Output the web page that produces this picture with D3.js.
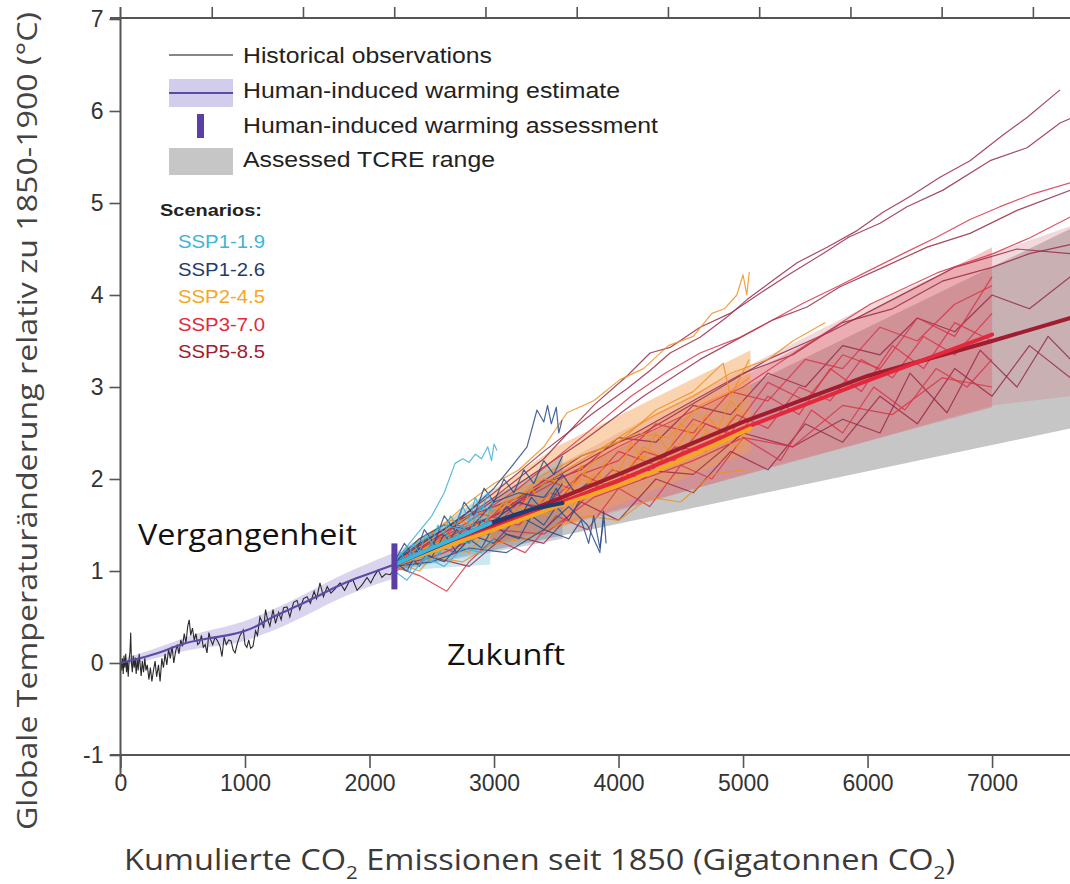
<!DOCTYPE html>
<html><head><meta charset="utf-8">
<script src="https://cdn.jsdelivr.net/npm/d3@7"></script>
<style>body{margin:0;background:#fff}svg{display:block}</style>
</head><body>
<svg id="c" width="1070" height="884"></svg>
<script>
// ---------------- DATA ----------------
const xTicks = [0,1000,2000,3000,4000,5000,6000,7000];
const yTicks = [-1,0,1,2,3,4,5,6,7];
const topTicksGtC = [200,400,600,800,1000,1200,1400,1600,1800,2000];

const scenarioNames = ["SSP1-1.9","SSP1-2.6","SSP2-4.5","SSP3-7.0","SSP5-8.5"];
const scenarioColors = ["#3cb4dc","#1f3b73","#f5a623","#e2283a","#a01c30"];
const memberColors = ["#3cb0d6","#2a4a86","#f0901e","#d8344a","#962a48"];

// historical observations [cumulative GtCO2, °C]
const histObs = [[0,0.02],[8,-0.08],[15,0.05],[22,-0.12],[28,0.08],[35,-0.05],[42,0.1],[48,-0.1],[55,0.02],[62,-0.15],[70,0.05],[76,0.12],[82,0.33],[88,0.0],[95,-0.1],[102,0.08],[110,-0.05],[118,0.06],[126,-0.12],[134,0.04],[142,-0.08],[150,0.1],[158,-0.02],[166,-0.14],[175,0.02],[185,-0.1],[195,0.05],[205,-0.08],[215,-0.02],[228,-0.18],[240,-0.05],[252,-0.2],[265,-0.08],[278,0.02],[290,-0.15],[305,-0.02],[318,-0.2],[332,0.05],[345,-0.05],[358,0.1],[372,-0.02],[386,0.15],[400,0.05],[414,0.18],[428,0.0],[442,0.12],[456,0.2],[470,0.1],[484,0.25],[498,0.18],[512,0.32],[526,0.22],[540,0.4],[552,0.47],[564,0.3],[578,0.38],[592,0.25],[606,0.32],[620,0.2],[635,0.22],[650,0.3],[665,0.17],[680,0.2],[695,0.11],[710,0.33],[725,0.25],[740,0.2],[760,0.28],[780,0.24],[800,0.18],[815,0.07],[832,0.28],[850,0.2],[870,0.25],[888,0.24],[905,0.14],[920,0.11],[940,0.22],[960,0.3],[986,0.36],[1000,0.2],[1015,0.17],[1030,0.25],[1045,0.16],[1064,0.18],[1085,0.35],[1100,0.3],[1120,0.5],[1136,0.45],[1150,0.38],[1165,0.58],[1180,0.48],[1200,0.4],[1225,0.58],[1245,0.43],[1270,0.55],[1290,0.47],[1310,0.6],[1337,0.61],[1360,0.5],[1390,0.66],[1418,0.68],[1440,0.58],[1470,0.7],[1498,0.72],[1525,0.65],[1555,0.78],[1575,0.7],[1602,0.87],[1630,0.72],[1660,0.83],[1690,0.76],[1720,0.8],[1763,0.87],[1800,0.79],[1835,0.88],[1868,0.9],[1900,0.79],[1940,0.85],[1980,0.93],[2010,0.87],[2040,0.95],[2069,1.01],[2100,0.93],[2130,0.97],[2165,0.96],[2190,1.0]];

// human-induced warming estimate
const humanLine = [[0,0],[150,0.05],[317,0.11],[530,0.23],[719,0.27],[900,0.31],[986,0.34],[1100,0.4],[1175,0.47],[1300,0.55],[1442,0.63],[1600,0.74],[1843,0.9],[2000,0.97],[2200,1.07]];
const humanBand = [[0,-0.03,0.04],[300,0.05,0.16],[600,0.17,0.33],[900,0.19,0.40],[1200,0.33,0.56],[1500,0.52,0.76],[1800,0.74,0.98],[2200,0.92,1.2]];
const assessment = {x:2200, lo:0.8, hi:1.3};

// assessed TCRE range [GtCO2, low, high]
const tcreRange = [[2200,1.0,1.15],[7630,2.55,4.72]];

// scenario ranges [GtCO2, low, high]
const rangeSSP119 = [[2200,1.0,1.15],[2970,1.07,1.88]];
const rangeSSP126 = [[2200,1.0,1.15],[3550,1.35,2.25]];
const rangeSSP245 = [[2200,1.0,1.15],[3500,1.45,2.35],[5060,2.3,3.4]];
const rangeSSP370 = [[2200,1.0,1.15],[7000,2.78,4.52]];
const rangeSSP585 = [[2200,1.0,1.2],[4000,1.65,2.5],[5000,2.05,3.2],[6100,2.45,3.95],[7000,2.8,4.45],[7630,2.9,4.75]];

// scenario means
const meanSSP119 = [[2200,1.07],[2500,1.25],[2800,1.42],[2970,1.52]];
const meanSSP126 = [[2200,1.07],[2600,1.3],[2970,1.52],[3300,1.67],[3550,1.74]];
const meanSSP245 = [[2200,1.07],[3000,1.45],[3500,1.7],[4000,1.93],[4500,2.2],[5060,2.55]];
const meanSSP370 = [[2200,1.07],[3000,1.47],[4000,1.98],[5000,2.55],[6000,3.07],[7000,3.57]];
const meanSSP585 = [[2200,1.07],[3000,1.5],[4000,2.05],[5000,2.62],[6000,3.12],[7000,3.5],[7630,3.75]];

// individual model simulations
const membersSSP585 = [
 [[2200,1.1],[2600,1.45],[3000,1.85],[3400,2.3],[3800,2.72],[4068,2.98],[4253,3.18],[4414,3.37],[4655,3.54],[4871,3.76],[5032,3.95],[5241,4.16],[5434,4.35],[5675,4.52],[5916,4.7],[6124,4.9],[6341,5.07],[6582,5.28],[6823,5.46],[7088,5.74],[7281,5.93],[7546,6.23]],
 [[2200,1.08],[2600,1.42],[3000,1.8],[3400,2.22],[3800,2.8],[4068,3.12],[4253,3.37],[4414,3.43],[4655,3.65],[4896,3.8],[5137,4.02],[5378,4.23],[5643,4.45],[5851,4.63],[6100,4.78],[6317,4.96],[6606,5.14],[6984,5.46],[7281,5.6],[7546,5.87],[7630,5.92]],
 [[2200,1.08],[2700,1.5],[3200,1.95],[3700,2.4],[4200,2.9],[4655,3.3],[5241,3.73],[5514,3.87],[5779,4.09],[6124,4.3],[6478,4.52],[6823,4.67],[7201,4.92],[7630,5.14]],
 [[2200,1.1],[2700,1.55],[3200,1.8],[3700,2.25],[4200,2.5],[4700,2.9],[5200,3.3],[5700,3.6],[6200,3.95],[6700,4.3],[7200,4.5],[7630,4.45]],
 [[2200,1.1],[2500,1.3],[2800,1.5],[3100,1.65],[3400,1.95],[3700,2.1],[4000,2.45],[4300,2.4],[4600,2.8],[4900,2.7],[5200,3.15],[5500,3.0],[5800,3.45],[6100,3.35],[6400,3.75],[6700,3.6],[7000,4.0],[7300,3.85],[7630,4.2]],
 [[2200,1.05],[2500,1.15],[2800,1.05],[3100,1.4],[3400,1.3],[3700,1.75],[4000,1.55],[4300,2.0],[4600,1.85],[4900,2.3],[5200,2.1],[5500,2.6],[5800,2.4],[6100,2.9],[6400,2.6],[6700,3.2],[7000,2.9],[7300,3.45],[7630,3.1]],
 [[2200,1.05],[2600,1.25],[3000,1.5],[3400,1.65],[3800,1.9],[4200,2.1],[4600,2.05],[5000,2.5],[5400,2.35],[5800,2.65],[6100,2.5],[6341,3.15],[6638,2.72],[6904,3.4],[7200,3.0],[7450,3.55],[7630,3.3]],
 [[2200,1.05],[2600,1.35],[3000,1.6],[3400,1.95],[3800,2.25],[4200,2.55],[4600,2.85],[5000,3.15],[5400,3.35],[5800,3.7],[6200,3.85],[6600,4.15],[7000,4.3],[7300,4.45],[7630,4.55]]
];
const membersSSP370 = [
 [[2200,1.1],[2700,1.45],[3200,1.9],[3700,2.45],[4100,2.9],[4374,3.15],[4655,3.37],[4976,3.54],[5241,3.73],[5482,3.91],[5755,4.09],[6020,4.27],[6285,4.45],[6558,4.63],[6823,4.82],[7064,4.96],[7329,5.1],[7630,5.22]],
 [[2200,1.05],[3000,1.6],[4000,2.35],[5000,3.0],[5500,3.45],[6020,3.9],[6558,4.24],[7008,4.45],[7300,4.62],[7630,4.85]],
 [[2200,1.1],[2450,1.3],[2700,1.2],[2950,1.55],[3200,1.5],[3450,1.85],[3700,1.75],[3950,2.1],[4200,2.0],[4450,2.35],[4700,2.3],[4950,2.7],[5200,2.55],[5450,3.0],[5700,2.85],[5950,3.3],[6200,3.1],[6450,3.55],[6700,3.35],[7000,3.8]],
 [[2200,1.05],[2400,0.95],[2620,0.78],[2800,1.1],[3000,1.35],[3250,1.2],[3500,1.6],[3750,1.45],[4000,1.9],[4250,1.7],[4500,2.15],[4750,2.0],[5000,2.45],[5300,2.2],[5550,2.75],[5800,2.5],[6050,3.0],[6300,2.75],[6550,3.2],[6800,3.0],[7000,3.3]],
 [[2200,1.1],[2500,1.4],[2800,1.35],[3100,1.75],[3400,1.7],[3700,2.05],[4000,2.2],[4300,2.6],[4600,2.5],[4900,2.95],[5200,2.85],[5500,3.3],[5800,3.2],[6100,3.65],[6400,3.5],[6700,3.9],[7000,4.1]],
 [[2200,1.0],[2600,1.2],[3000,1.45],[3400,1.4],[3800,1.8],[4200,2.0],[4600,2.2],[5000,2.45],[5400,2.35],[5800,2.8],[6200,2.7],[6600,3.1],[7000,3.0]],
 [[2200,1.08],[2450,1.2],[2700,1.5],[2950,1.4],[3200,1.75],[3450,1.65],[3700,2.05],[3950,1.9],[4200,2.3],[4450,2.2],[4700,2.6],[4950,2.45],[5200,2.9],[5450,2.7],[5700,3.2],[5950,2.95],[6200,3.45],[6450,3.2],[6700,3.7],[7000,3.5]],
 [[2200,1.1],[2500,1.3],[2800,1.65],[3100,1.55],[3400,2.0],[3700,1.85],[4000,2.3],[4300,2.15],[4600,2.65],[4900,2.5],[5200,3.05],[5500,2.85],[5800,3.35],[6100,3.2],[6400,3.75],[6700,3.55],[7000,4.2]]
];
const membersSSP245 = [
 [[2200,1.1],[2400,1.3],[2566,1.48],[2800,1.75],[3000,1.95],[3200,2.1],[3400,2.35],[3586,2.72],[3800,2.85],[4012,3.08],[4200,3.2],[4400,3.45],[4600,3.55],[4750,3.8],[4850,3.85],[4950,4.0],[5000,4.22],[5030,4.0],[5050,4.25]],
 [[2200,1.05],[2500,1.3],[2800,1.5],[3100,1.75],[3400,1.95],[3700,2.2],[4000,2.45],[4300,2.7],[4600,2.9],[4900,3.15],[5200,3.3],[5400,3.5],[5660,3.7]],
 [[2200,1.1],[2400,1.0],[2600,1.3],[2800,1.2],[3000,1.55],[3200,1.45],[3400,1.8],[3600,1.65],[3800,2.05],[4000,1.95],[4200,2.35],[4400,2.2],[4600,2.6],[4800,2.45],[5000,2.85]],
 [[2200,1.05],[2450,1.25],[2700,1.4],[2950,1.35],[3200,1.7],[3450,1.6],[3700,2.0],[3950,1.9],[4200,2.25],[4450,2.15],[4700,2.5],[4950,2.35],[5050,2.6]],
 [[2200,1.1],[2400,1.35],[2650,1.55],[2900,1.5],[3150,1.85],[3400,2.0],[3650,1.95],[3900,2.35],[4150,2.5],[4400,2.45],[4650,2.8],[4900,2.95],[5050,3.1]],
 [[2200,1.0],[2500,1.15],[2750,1.1],[3000,1.3],[3250,1.35],[3500,1.5],[3750,1.6],[4000,1.55],[4250,1.8],[4500,1.75],[4750,2.05],[5000,2.1]],
 [[2200,1.08],[2500,1.35],[2800,1.6],[3100,1.7],[3400,2.05],[3700,2.25],[4000,2.4],[4300,2.75],[4600,2.95],[4840,3.26],[4900,2.9],[5050,3.3]],
 [[2200,1.08],[2400,1.2],[2600,1.35],[2800,1.3],[3000,1.5],[3100,1.75],[3200,1.6],[3300,1.9],[3400,1.7],[3500,2.0],[3600,1.85],[3700,2.15],[3800,1.9],[3900,2.2],[4000,2.05],[4100,2.4],[4200,2.2],[4300,2.5],[4400,2.3],[4500,2.6],[4600,2.45],[4700,2.7],[4800,2.55],[4900,2.85],[5000,2.7]]
];
const membersSSP126 = [
 [[2200,1.1],[2400,1.3],[2600,1.45],[2800,1.65],[3000,1.9],[3150,2.15],[3265,2.35],[3345,2.75],[3400,2.62],[3430,2.8],[3460,2.6],[3500,2.78],[3520,2.5],[3546,2.64]],
 [[2200,1.05],[2400,1.2],[2600,1.1],[2800,1.4],[3000,1.3],[3200,1.6],[3400,1.45],[3600,1.7],[3750,1.5],[3850,1.2],[3880,1.65],[3900,1.3]],
 [[2200,1.1],[2400,1.35],[2600,1.5],[2800,1.45],[3000,1.75],[3200,1.85],[3400,1.8],[3550,2.05],[3650,1.85],[3750,1.95]],
 [[2200,1.05],[2500,1.1],[2800,1.25],[3100,1.2],[3400,1.45],[3600,1.35],[3700,1.55],[3760,1.3],[3800,1.6],[3850,1.25],[3880,1.55]],
 [[2200,1.1],[2400,1.2],[2700,1.35],[3000,1.55],[3200,1.75],[3400,1.65],[3550,1.95]],
 [[2200,1.08],[2300,1.2],[2400,1.05],[2500,1.3],[2600,1.25],[2700,1.45],[2800,1.3],[2900,1.55],[3000,1.5],[3100,1.7],[3200,1.55],[3300,1.8],[3400,1.65],[3500,1.9],[3550,1.75]],
 [[2200,1.1],[2300,1.0],[2400,1.25],[2500,1.15],[2600,1.4],[2700,1.2],[2800,1.35],[2900,1.25],[3000,1.5],[3100,1.4],[3200,1.35],[3300,1.6],[3400,1.5],[3500,1.7],[3600,1.55],[3700,1.8]],
 [[2200,1.1],[2280,1.3],[2360,1.15],[2440,1.45],[2520,1.3],[2600,1.6],[2680,1.45],[2760,1.75],[2840,1.6],[2920,1.9],[3000,1.75],[3080,2.0],[3160,1.85],[3240,2.1],[3320,1.95],[3400,2.2],[3480,2.05],[3550,2.25]]
];
const membersSSP119 = [
 [[2200,1.1],[2350,1.35],[2500,1.6],[2600,1.85],[2687,2.17],[2750,2.22],[2800,2.18],[2850,2.27],[2900,2.22],[2950,2.35],[2980,2.2],[3000,2.38],[3024,2.31]],
 [[2200,1.05],[2350,1.2],[2500,1.1],[2650,1.35],[2800,1.3],[2950,1.55],[3000,1.45]],
 [[2200,1.1],[2300,1.25],[2450,1.35],[2600,1.5],[2750,1.45],[2900,1.7],[3000,1.65]],
 [[2200,1.0],[2300,0.9],[2450,1.15],[2600,1.05],[2750,1.25],[2900,1.2],[3000,1.35]],
 [[2200,1.08],[2250,1.2],[2300,1.1],[2350,1.3],[2400,1.2],[2450,1.4],[2500,1.3],[2550,1.5],[2600,1.4],[2650,1.6],[2700,1.5],[2750,1.7],[2800,1.55],[2850,1.8],[2900,1.65],[2950,1.85],[3000,1.7]],
 [[2200,1.05],[2260,1.15],[2320,0.98],[2380,1.2],[2440,1.1],[2500,1.3],[2560,1.18],[2620,1.4],[2680,1.28],[2740,1.5],[2800,1.4],[2860,1.62],[2920,1.5],[2980,1.7]]
];

// ---------------- CHART ----------------
const svg = d3.select('#c');
const x = d3.scaleLinear().domain([0,7630]).range([120.5,1070.5]);
const y = d3.scaleLinear().domain([-1,7]).range([755,19]);
const xGtC = d3.scaleLinear().domain([0,7630/3.664]).range([120.5,1070.5]);

const area = d3.area().x(d=>x(d[0])).y0(d=>y(d[1])).y1(d=>y(d[2]));
const line = d3.line().x(d=>x(d[0])).y(d=>y(d[1]));

const g = svg.append('g');
// TCRE
g.append('path').datum(tcreRange).attr('d',area).attr('fill','#c6c6c6');
// scenario ranges
const ranges = [[rangeSSP585,'#cf7d88',0.30],[rangeSSP370,'#e0505e',0.32],[rangeSSP245,'#f5a052',0.45],[rangeSSP126,'#6f819c',0.35],[rangeSSP119,'#93d2e6',0.5]];
ranges.forEach(r=>g.append('path').datum(r[0]).attr('d',area).attr('fill',r[1]).attr('fill-opacity',r[2]));

// member lines
const members = [[membersSSP585,memberColors[4]],[membersSSP370,memberColors[3]],[membersSSP245,memberColors[2]],[membersSSP126,memberColors[1]],[membersSSP119,memberColors[0]]];
members.forEach(m=>m[0].forEach(s=>g.append('path').datum(s).attr('d',line).attr('fill','none')
  .attr('stroke',m[1]).attr('stroke-width',1.2).attr('stroke-opacity',0.85).attr('stroke-linejoin','round')));

// mean lines
const means = [[meanSSP585,scenarioColors[4]],[meanSSP370,scenarioColors[3]],[meanSSP245,scenarioColors[2]],[meanSSP126,scenarioColors[1]],[meanSSP119,scenarioColors[0]]];
means.forEach(m=>g.append('path').datum(m[0]).attr('d',line).attr('fill','none')
  .attr('stroke',m[1]).attr('stroke-width',4).attr('stroke-linecap','round'));

// human induced
g.append('path').datum(humanBand).attr('d',d3.area().x(d=>x(d[0])).y0(d=>y(d[1])).y1(d=>y(d[2])).curve(d3.curveBasis))
  .attr('fill','#d3cdec').attr('fill-opacity',0.85);
g.append('path').datum(histObs).attr('d',line).attr('fill','none').attr('stroke','#2a2a2a').attr('stroke-width',1.1);
g.append('path').datum(humanLine).attr('d',d3.line().x(d=>x(d[0])).y(d=>y(d[1])).curve(d3.curveBasis))
  .attr('fill','none').attr('stroke','#5b4aa8').attr('stroke-width',2.2);
g.append('line').attr('x1',x(assessment.x)).attr('x2',x(assessment.x))
  .attr('y1',y(assessment.lo)).attr('y2',y(assessment.hi)).attr('stroke','#5b3ea6').attr('stroke-width',6);

// ---------------- AXES ----------------
const axisCol = '#555';
const tickFont = '"Liberation Sans", Arial, sans-serif';
const bx = svg.append('g').attr('transform','translate(0,755)')
  .call(d3.axisBottom(x).tickValues(xTicks).tickSize(13).tickSizeOuter(0).tickPadding(7).tickFormat(d=>String(d)));
const ly = svg.append('g').attr('transform','translate(120.5,0)')
  .call(d3.axisLeft(y).tickValues(yTicks).tickSize(11).tickSizeOuter(0).tickPadding(6).tickFormat(d=>String(d)));
const tx = svg.append('g').attr('transform','translate(0,18)')
  .call(d3.axisTop(xGtC).tickValues(topTicksGtC).tickSize(11).tickSizeOuter(0).tickFormat(''));
[bx,ly,tx].forEach(a=>{
  a.select('.domain').remove();
  a.selectAll('line').attr('stroke',axisCol).attr('stroke-width',1.6);
  a.selectAll('text').attr('fill','#333').style('font-family',tickFont).style('font-size','23px');
});
svg.append('line').attr('x1',110).attr('x2',1070).attr('y1',755).attr('y2',755).attr('stroke',axisCol).attr('stroke-width',2);
svg.append('line').attr('x1',110).attr('x2',1070).attr('y1',18).attr('y2',18).attr('stroke',axisCol).attr('stroke-width',2);
svg.append('line').attr('x1',120.5).attr('x2',120.5).attr('y1',7).attr('y2',777).attr('stroke',axisCol).attr('stroke-width',2);

// ---------------- LEGEND ----------------
const lg = svg.append('g').style('font-family',tickFont).style('font-size','22px').attr('fill','#222');
lg.append('line').attr('x1',169).attr('x2',233).attr('y1',55).attr('y2',55).attr('stroke','#111').attr('stroke-width',1.2);
lg.append('text').attr('x',243).attr('y',63).attr('textLength',249).attr('lengthAdjust','spacingAndGlyphs').text('Historical observations');
lg.append('rect').attr('x',169).attr('y',79).attr('width',64).attr('height',28).attr('fill','#d3cdec');
lg.append('line').attr('x1',169).attr('x2',233).attr('y1',93).attr('y2',93).attr('stroke','#5b4aa8').attr('stroke-width',2);
lg.append('text').attr('x',243).attr('y',98).attr('textLength',377).attr('lengthAdjust','spacingAndGlyphs').text('Human-induced warming estimate');
lg.append('rect').attr('x',197).attr('y',114).attr('width',7).attr('height',24).attr('fill','#5b3ea6');
lg.append('text').attr('x',243).attr('y',133).attr('textLength',415).attr('lengthAdjust','spacingAndGlyphs').text('Human-induced warming assessment');
lg.append('rect').attr('x',169).attr('y',148).attr('width',64).attr('height',27).attr('fill','#c6c6c6');
lg.append('text').attr('x',243).attr('y',167).attr('textLength',252).attr('lengthAdjust','spacingAndGlyphs').text('Assessed TCRE range');

lg.append('text').attr('x',160).attr('y',216).style('font-size','17px').style('font-weight','bold')
  .attr('textLength',102).attr('lengthAdjust','spacingAndGlyphs').text('Scenarios:');
scenarioNames.forEach((n,i)=>lg.append('text').attr('x',178).attr('y',248+i*27.5).style('font-size','18px')
  .attr('fill',scenarioColors[i]).attr('textLength',87).attr('lengthAdjust','spacingAndGlyphs').text(n));

// ---------------- TITLES ----------------
const tf = '"Open Sans", Lato, sans-serif';
svg.append('text').attr('transform','translate(37,421) rotate(-90)').attr('text-anchor','middle')
  .style('font-family',tf).style('font-size','28px').attr('fill','#444')
  .attr('textLength',818).attr('lengthAdjust','spacingAndGlyphs')
  .text('Globale Temperaturänderung relativ zu 1850-1900 (°C)');
const xt = svg.append('text').attr('x',124).attr('y',870).style('font-family',tf).style('font-size','30px').attr('fill','#3a3a3a')
  .attr('textLength',831).attr('lengthAdjust','spacingAndGlyphs');
xt.append('tspan').text('Kumulierte CO');
xt.append('tspan').attr('dy',9).style('font-size','19px').text('2');
xt.append('tspan').attr('dy',-9).text(' Emissionen seit 1850 (Gigatonnen CO');
xt.append('tspan').attr('dy',9).style('font-size','19px').text('2');
xt.append('tspan').attr('dy',-9).text(')');
svg.append('text').attr('x',138).attr('y',545).style('font-family',tf).style('font-size','29px').attr('fill','#111')
  .attr('textLength',219).attr('lengthAdjust','spacingAndGlyphs').text('Vergangenheit');
svg.append('text').attr('x',447).attr('y',665).style('font-family',tf).style('font-size','29px').attr('fill','#111')
  .attr('textLength',118).attr('lengthAdjust','spacingAndGlyphs').text('Zukunft');
</script>
</body></html>
